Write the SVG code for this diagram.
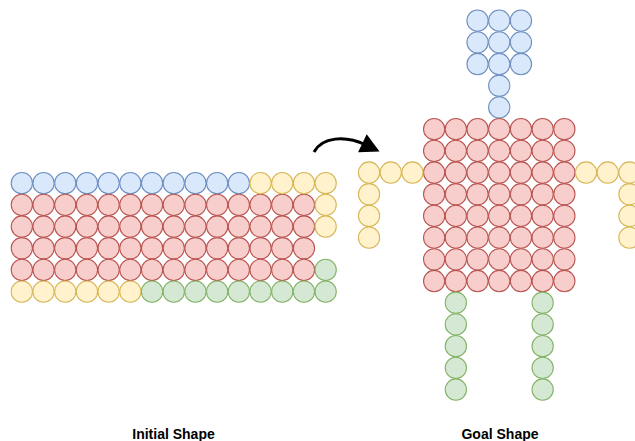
<svg xmlns="http://www.w3.org/2000/svg" width="635" height="441" viewBox="0 0 635 441">
<style>
circle{stroke-width:0.05}
.b{fill:#dae8fc;stroke:#6c8ebf}
.r{fill:#f8cecc;stroke:#b85450}
.y{fill:#fff2cc;stroke:#d6b656}
.g{fill:#d5e8d4;stroke:#82b366}
.lbl{font-family:"Liberation Sans",Arial,sans-serif;font-size:14px;font-weight:bold;fill:#000;text-anchor:middle}
</style>
<defs>
<marker id="ah" markerUnits="userSpaceOnUse" markerWidth="24" markerHeight="24" viewBox="-4 -12 24 24" refX="2" refY="0" orient="auto">
<path d="M-2,-10 L17,0 L-2,10 Z" fill="#000"/>
</marker>
</defs>
<rect width="635" height="441" fill="#fff"/>
<g id="initial" transform="translate(21.85,183.15) scale(21.7)">
<g id="init-blue" class="b">
<circle cx="0" cy="0" r="0.49"/><circle cx="1" cy="0" r="0.49"/><circle cx="2" cy="0" r="0.49"/><circle cx="3" cy="0" r="0.49"/><circle cx="4" cy="0" r="0.49"/><circle cx="5" cy="0" r="0.49"/><circle cx="6" cy="0" r="0.49"/><circle cx="7" cy="0" r="0.49"/><circle cx="8" cy="0" r="0.49"/><circle cx="9" cy="0" r="0.49"/><circle cx="10" cy="0" r="0.49"/>
</g>
<g id="init-red" class="r">
<circle cx="0" cy="1" r="0.49"/><circle cx="1" cy="1" r="0.49"/><circle cx="2" cy="1" r="0.49"/><circle cx="3" cy="1" r="0.49"/><circle cx="4" cy="1" r="0.49"/><circle cx="5" cy="1" r="0.49"/><circle cx="6" cy="1" r="0.49"/><circle cx="7" cy="1" r="0.49"/><circle cx="8" cy="1" r="0.49"/><circle cx="9" cy="1" r="0.49"/><circle cx="10" cy="1" r="0.49"/><circle cx="11" cy="1" r="0.49"/><circle cx="12" cy="1" r="0.49"/><circle cx="13" cy="1" r="0.49"/>
<circle cx="0" cy="2" r="0.49"/><circle cx="1" cy="2" r="0.49"/><circle cx="2" cy="2" r="0.49"/><circle cx="3" cy="2" r="0.49"/><circle cx="4" cy="2" r="0.49"/><circle cx="5" cy="2" r="0.49"/><circle cx="6" cy="2" r="0.49"/><circle cx="7" cy="2" r="0.49"/><circle cx="8" cy="2" r="0.49"/><circle cx="9" cy="2" r="0.49"/><circle cx="10" cy="2" r="0.49"/><circle cx="11" cy="2" r="0.49"/><circle cx="12" cy="2" r="0.49"/><circle cx="13" cy="2" r="0.49"/>
<circle cx="0" cy="3" r="0.49"/><circle cx="1" cy="3" r="0.49"/><circle cx="2" cy="3" r="0.49"/><circle cx="3" cy="3" r="0.49"/><circle cx="4" cy="3" r="0.49"/><circle cx="5" cy="3" r="0.49"/><circle cx="6" cy="3" r="0.49"/><circle cx="7" cy="3" r="0.49"/><circle cx="8" cy="3" r="0.49"/><circle cx="9" cy="3" r="0.49"/><circle cx="10" cy="3" r="0.49"/><circle cx="11" cy="3" r="0.49"/><circle cx="12" cy="3" r="0.49"/><circle cx="13" cy="3" r="0.49"/>
<circle cx="0" cy="4" r="0.49"/><circle cx="1" cy="4" r="0.49"/><circle cx="2" cy="4" r="0.49"/><circle cx="3" cy="4" r="0.49"/><circle cx="4" cy="4" r="0.49"/><circle cx="5" cy="4" r="0.49"/><circle cx="6" cy="4" r="0.49"/><circle cx="7" cy="4" r="0.49"/><circle cx="8" cy="4" r="0.49"/><circle cx="9" cy="4" r="0.49"/><circle cx="10" cy="4" r="0.49"/><circle cx="11" cy="4" r="0.49"/><circle cx="12" cy="4" r="0.49"/><circle cx="13" cy="4" r="0.49"/>
</g>
<g id="init-yellow" class="y">
<circle cx="11" cy="0" r="0.49"/><circle cx="12" cy="0" r="0.49"/><circle cx="13" cy="0" r="0.49"/><circle cx="14" cy="0" r="0.49"/>
<circle cx="14" cy="1" r="0.49"/><circle cx="14" cy="2" r="0.49"/>
<circle cx="0" cy="5" r="0.49"/><circle cx="1" cy="5" r="0.49"/><circle cx="2" cy="5" r="0.49"/><circle cx="3" cy="5" r="0.49"/><circle cx="4" cy="5" r="0.49"/><circle cx="5" cy="5" r="0.49"/>
</g>
<g id="init-green" class="g">
<circle cx="14" cy="4" r="0.49"/>
<circle cx="6" cy="5" r="0.49"/><circle cx="7" cy="5" r="0.49"/><circle cx="8" cy="5" r="0.49"/><circle cx="9" cy="5" r="0.49"/><circle cx="10" cy="5" r="0.49"/><circle cx="11" cy="5" r="0.49"/><circle cx="12" cy="5" r="0.49"/><circle cx="13" cy="5" r="0.49"/><circle cx="14" cy="5" r="0.49"/>
</g>
</g>
<g id="goal" transform="translate(434.15,129.15) scale(21.7)">
<g id="goal-head" class="b">
<circle cx="2" cy="-5" r="0.49"/><circle cx="3" cy="-5" r="0.49"/><circle cx="4" cy="-5" r="0.49"/>
<circle cx="2" cy="-4" r="0.49"/><circle cx="3" cy="-4" r="0.49"/><circle cx="4" cy="-4" r="0.49"/>
<circle cx="2" cy="-3" r="0.49"/><circle cx="3" cy="-3" r="0.49"/><circle cx="4" cy="-3" r="0.49"/>
<circle cx="3" cy="-2" r="0.49"/><circle cx="3" cy="-1" r="0.49"/>
</g>
<g id="goal-body" class="r">
<circle cx="0" cy="0" r="0.49"/><circle cx="1" cy="0" r="0.49"/><circle cx="2" cy="0" r="0.49"/><circle cx="3" cy="0" r="0.49"/><circle cx="4" cy="0" r="0.49"/><circle cx="5" cy="0" r="0.49"/><circle cx="6" cy="0" r="0.49"/>
<circle cx="0" cy="1" r="0.49"/><circle cx="1" cy="1" r="0.49"/><circle cx="2" cy="1" r="0.49"/><circle cx="3" cy="1" r="0.49"/><circle cx="4" cy="1" r="0.49"/><circle cx="5" cy="1" r="0.49"/><circle cx="6" cy="1" r="0.49"/>
<circle cx="0" cy="2" r="0.49"/><circle cx="1" cy="2" r="0.49"/><circle cx="2" cy="2" r="0.49"/><circle cx="3" cy="2" r="0.49"/><circle cx="4" cy="2" r="0.49"/><circle cx="5" cy="2" r="0.49"/><circle cx="6" cy="2" r="0.49"/>
<circle cx="0" cy="3" r="0.49"/><circle cx="1" cy="3" r="0.49"/><circle cx="2" cy="3" r="0.49"/><circle cx="3" cy="3" r="0.49"/><circle cx="4" cy="3" r="0.49"/><circle cx="5" cy="3" r="0.49"/><circle cx="6" cy="3" r="0.49"/>
<circle cx="0" cy="4" r="0.49"/><circle cx="1" cy="4" r="0.49"/><circle cx="2" cy="4" r="0.49"/><circle cx="3" cy="4" r="0.49"/><circle cx="4" cy="4" r="0.49"/><circle cx="5" cy="4" r="0.49"/><circle cx="6" cy="4" r="0.49"/>
<circle cx="0" cy="5" r="0.49"/><circle cx="1" cy="5" r="0.49"/><circle cx="2" cy="5" r="0.49"/><circle cx="3" cy="5" r="0.49"/><circle cx="4" cy="5" r="0.49"/><circle cx="5" cy="5" r="0.49"/><circle cx="6" cy="5" r="0.49"/>
<circle cx="0" cy="6" r="0.49"/><circle cx="1" cy="6" r="0.49"/><circle cx="2" cy="6" r="0.49"/><circle cx="3" cy="6" r="0.49"/><circle cx="4" cy="6" r="0.49"/><circle cx="5" cy="6" r="0.49"/><circle cx="6" cy="6" r="0.49"/>
<circle cx="0" cy="7" r="0.49"/><circle cx="1" cy="7" r="0.49"/><circle cx="2" cy="7" r="0.49"/><circle cx="3" cy="7" r="0.49"/><circle cx="4" cy="7" r="0.49"/><circle cx="5" cy="7" r="0.49"/><circle cx="6" cy="7" r="0.49"/>
</g>
<g id="goal-left-arm" class="y">
<circle cx="-3" cy="2" r="0.49"/><circle cx="-2" cy="2" r="0.49"/><circle cx="-1" cy="2" r="0.49"/>
<circle cx="-3" cy="3" r="0.49"/><circle cx="-3" cy="4" r="0.49"/><circle cx="-3" cy="5" r="0.49"/>
</g>
<g id="goal-right-arm" class="y">
<circle cx="7" cy="2" r="0.49"/><circle cx="8" cy="2" r="0.49"/><circle cx="9" cy="2" r="0.49"/>
<circle cx="9" cy="3" r="0.49"/><circle cx="9" cy="4" r="0.49"/><circle cx="9" cy="5" r="0.49"/>
</g>
<g id="goal-left-leg" class="g">
<circle cx="1" cy="8" r="0.49"/><circle cx="1" cy="9" r="0.49"/><circle cx="1" cy="10" r="0.49"/><circle cx="1" cy="11" r="0.49"/><circle cx="1" cy="12" r="0.49"/>
</g>
<g id="goal-right-leg" class="g">
<circle cx="5" cy="8" r="0.49"/><circle cx="5" cy="9" r="0.49"/><circle cx="5" cy="10" r="0.49"/><circle cx="5" cy="11" r="0.49"/><circle cx="5" cy="12" r="0.49"/>
</g>
</g>
<g id="connectors">
<path d="M314,152 C322,137 345,135 366,145" fill="none" stroke="#000" stroke-width="3" marker-end="url(#ah)"/>
</g>
<g id="labels">
<text class="lbl" x="173.5" y="438.5">Initial Shape</text>
<text class="lbl" x="500" y="438.5">Goal Shape</text>
</g>
</svg>
